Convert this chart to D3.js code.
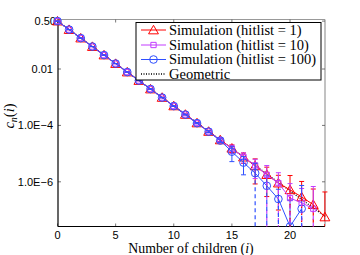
<!DOCTYPE html>
<html><head><meta charset="utf-8">
<script src="https://cdn.jsdelivr.net/npm/d3@7"></script>
<style>body{margin:0;background:#fff}svg{display:block}</style>
</head><body>
<script>
const xs = d3.range(0, 24);
const geometric = [0.5,0.25,0.125,0.0625,0.03125,0.015625,7.81e-3,3.91e-3,1.95e-3,9.77e-4,4.88e-4,2.44e-4,1.22e-4,6.10e-5,3.05e-5,1.53e-5,7.63e-6,3.81e-6,1.91e-6,9.54e-7,4.77e-7,2.38e-7,1.19e-7,5.96e-8];
const hit1  = [0.5,0.25,0.125,0.0625,0.0313,0.0156,7.8e-3,3.9e-3,1.95e-3,9.8e-4,4.9e-4,2.45e-4,1.22e-4,6.1e-5,3.05e-5,1.55e-5,7.5e-6,3.67e-6,1.8e-6,9.0e-7,5.2e-7,2.9e-7,1.55e-7,5.66e-8];
const hit1Err = [5e-4,4e-4,3e-4,2e-4,1.4e-4,1e-4,6e-5,4e-5,2.8e-5,2e-5,1.2e-5,8e-6,6e-6,4.5e-6,3.5e-6,4.8e-6,3e-6,2.83e-6,1.5e-6,8e-7,1.15e-6,7.4e-7,4e-7,3.8e-7];
const hit10 = [0.5,0.25,0.125,0.0625,0.0312,0.0156,7.8e-3,3.9e-3,1.95e-3,9.75e-4,4.88e-4,2.44e-4,1.22e-4,6.1e-5,3.0e-5,1.5e-5,7.6e-6,3.8e-6,1.77e-6,9.0e-7,2.65e-7,1.8e-7,1.11e-7,null];
const hit10Err = [5e-4,4e-4,3e-4,2e-4,1.4e-4,1e-4,6e-5,4e-5,2.8e-5,2e-5,1.2e-5,8e-6,6e-6,4.5e-6,4e-6,5e-6,3e-6,2.5e-6,2e-6,1.2e-6,6e-7,4e-7,5.7e-7,null];
const hit100 = [0.5,0.25,0.125,0.0625,0.0312,0.0156,7.8e-3,3.9e-3,1.95e-3,9.7e-4,4.85e-4,2.42e-4,1.2e-4,6.0e-5,2.9e-5,1.17e-5,4.8e-6,2.03e-6,7.2e-7,2.45e-7,2.6e-8,1.11e-7,null,null];
const hit100Err = [5e-4,4e-4,3e-4,2e-4,1.4e-4,1e-4,6e-5,4e-5,2.8e-5,2e-5,1.2e-5,8e-6,6e-6,4.5e-6,4e-6,6.5e-6,3.03e-6,2.5e-6,9e-7,3e-7,2e-7,6.3e-7,null,null];
const xTicks = [0,5,10,15,20];
const yTicks = [0.5,0.01,1e-4,1e-6];
const yTickLabels = ["0.50","0.01","1.0E\u22124","1.0E\u22126"];
const seriesNames = ["Simulation (hitlist = 1)","Simulation (hitlist = 10)","Simulation (hitlist = 100)"];

const W=360,H=255;
const M={l:58,r:325,t:19.5,b:226.5};
const x=d3.scaleLinear().domain([0,23]).range([57.5,324.9]);
const y=d3.scaleLog().domain([2.6e-8,0.57]).range([M.b,M.t]);

const svg=d3.select("body").append("svg").attr("width",W).attr("height",H);
svg.append("defs").append("clipPath").attr("id","clip").append("rect")
  .attr("x",M.l-6).attr("y",M.t-6).attr("width",M.r-M.l+12).attr("height",M.b-M.t+6);
svg.append("defs").append("clipPath").attr("id","clipb").append("rect")
  .attr("x",M.l).attr("y",M.t-6).attr("width",M.r-M.l).attr("height",M.b-M.t+6.5);

// frame
svg.append("line").attr("x1",M.l).attr("x2",M.r).attr("y1",M.t).attr("y2",M.t).attr("stroke","#999").attr("stroke-width",1.2);
svg.append("line").attr("x1",M.r).attr("x2",M.r).attr("y1",M.t).attr("y2",M.b).attr("stroke","#999").attr("stroke-width",1.2);

// ticks
const tk=svg.append("g").attr("stroke","#555").attr("stroke-width",0.8);
xTicks.forEach(t=>{
  tk.append("line").attr("x1",x(t)).attr("x2",x(t)).attr("y1",M.b).attr("y2",M.b-3);
  tk.append("line").attr("x1",x(t)).attr("x2",x(t)).attr("y1",M.t).attr("y2",M.t+3);
});
yTicks.forEach(t=>{
  tk.append("line").attr("x1",M.l).attr("x2",M.l+3).attr("y1",y(t)).attr("y2",y(t));
  tk.append("line").attr("x1",M.r).attr("x2",M.r-3).attr("y1",y(t)).attr("y2",y(t));
});
svg.append("line").attr("x1",M.l).attr("x2",M.l).attr("y1",M.t).attr("y2",M.b).attr("stroke","#000").attr("stroke-width",1.2);
svg.append("line").attr("x1",M.l).attr("x2",M.r).attr("y1",M.b).attr("y2",M.b).attr("stroke","#000").attr("stroke-width",1.2);

const tf="Liberation Sans, Arial, sans-serif";
xTicks.forEach(t=>svg.append("text").attr("x",x(t)).attr("y",238.5).attr("text-anchor","middle")
  .attr("font-family",tf).attr("font-size",11).text(t));
yTicks.forEach((t,i)=>svg.append("text").attr("x",i===0?56:53).attr("y",y(t)+4).attr("text-anchor","end")
  .attr("font-family",tf).attr("font-size",11).text(yTickLabels[i]));

const sf="Liberation Serif, Times New Roman, serif";
const xl=svg.append("text").attr("x",191).attr("y",252.5).attr("text-anchor","middle").attr("font-family",sf).attr("font-size",13.8);
xl.append("tspan").text("Number of children (");
xl.append("tspan").attr("font-style","italic").text("i");
xl.append("tspan").text(")");
const yl=svg.append("text").attr("transform","translate(14,116) rotate(-90)").attr("text-anchor","middle").attr("font-family",sf).attr("font-size",14.5);
yl.append("tspan").attr("font-style","italic").text("c");
yl.append("tspan").attr("font-style","italic").attr("font-size",10).attr("dy",3).text("n");
yl.append("tspan").attr("dy",-3).text("(");
yl.append("tspan").attr("font-style","italic").text("i");
yl.append("tspan").text(")");

const plot=svg.append("g").attr("clip-path","url(#clip)");
// geometric dotted
plot.append("path").datum(xs).attr("fill","none").attr("stroke","#000").attr("stroke-width",1.3)
  .attr("stroke-dasharray","1,1.5")
  .attr("d",d3.line().x(i=>x(i)).y(i=>y(geometric[i])));

const colors=["#ff0000","#c33cff","#2f4fff"];
const series=[{v:hit1,e:hit1Err},{v:hit10,e:hit10Err},{v:hit100,e:hit100Err}];
const shapes=[d3.symbolTriangle,d3.symbolSquare,d3.symbolCircle];
const sizes=[42,28,46];
const ymin=y.domain()[0];

function marker(g,k,cx,cy){
  g.append("path").attr("d",d3.symbol().type(shapes[k]).size(sizes[k])())
   .attr("transform",`translate(${cx},${cy+(k===0?1:0)})`)
   .attr("fill","none").attr("stroke",colors[k]).attr("stroke-width",1);
}

series.forEach((s,k)=>{
  const g=plot.append("g");
  const gb=svg.append("g").attr("clip-path","url(#clipb)");
  const pts=xs.filter(i=>s.v[i]!=null);
  // error bars
  pts.forEach(i=>{
    const v=s.v[i], e=s.e[i];
    const up=v+e, lo=v-e;
    const cx=x(i);
    g.append("line").attr("x1",cx).attr("x2",cx).attr("y1",y(v)).attr("y2",y(up)).attr("stroke",colors[k]).attr("stroke-width",1);
    g.append("line").attr("x1",cx-2.5).attr("x2",cx+2.5).attr("y1",y(up)).attr("y2",y(up)).attr("stroke",colors[k]).attr("stroke-width",1);
    if(lo>0){
      g.append("line").attr("x1",cx).attr("x2",cx).attr("y1",y(v)).attr("y2",y(lo)).attr("stroke",colors[k]).attr("stroke-width",1);
      g.append("line").attr("x1",cx-2.5).attr("x2",cx+2.5).attr("y1",y(lo)).attr("y2",y(lo)).attr("stroke",colors[k]).attr("stroke-width",1);
    } else {
      gb.append("line").attr("x1",cx).attr("x2",cx).attr("y1",y(v)).attr("y2",y(ymin)).attr("stroke",colors[k]).attr("stroke-width",1.2)
        .attr("stroke-dasharray","4,3");
    }
  });
  g.append("path").datum(pts).attr("fill","none").attr("stroke",colors[k]).attr("stroke-width",1)
    .attr("d",d3.line().x(i=>x(i)).y(i=>y(s.v[i])));
  pts.forEach(i=>marker(g,k,x(i),y(s.v[i])));
});

// legend
const lg=svg.append("g");
lg.append("rect").attr("x",136).attr("y",22.5).attr("width",185).attr("height",57.5).attr("fill","#fff").attr("stroke","#000").attr("stroke-width",1);
const rowsY=[30,45,59.5,74];
seriesNames.forEach((n,k)=>{
  lg.append("line").attr("x1",141).attr("x2",166).attr("y1",rowsY[k]).attr("y2",rowsY[k]).attr("stroke",colors[k]).attr("stroke-width",1);
  marker(lg,k,153.5,rowsY[k]);
  lg.append("text").attr("x",169).attr("y",rowsY[k]+4.5).attr("font-family",sf).attr("font-size",14.5).text(n);
});
lg.append("line").attr("x1",141).attr("x2",166).attr("y1",rowsY[3]).attr("y2",rowsY[3]).attr("stroke","#000").attr("stroke-width",1.3).attr("stroke-dasharray","1,1.5");
lg.append("text").attr("x",169).attr("y",rowsY[3]+4.5).attr("font-family",sf).attr("font-size",14.5).text("Geometric");
</script>
</body></html>
